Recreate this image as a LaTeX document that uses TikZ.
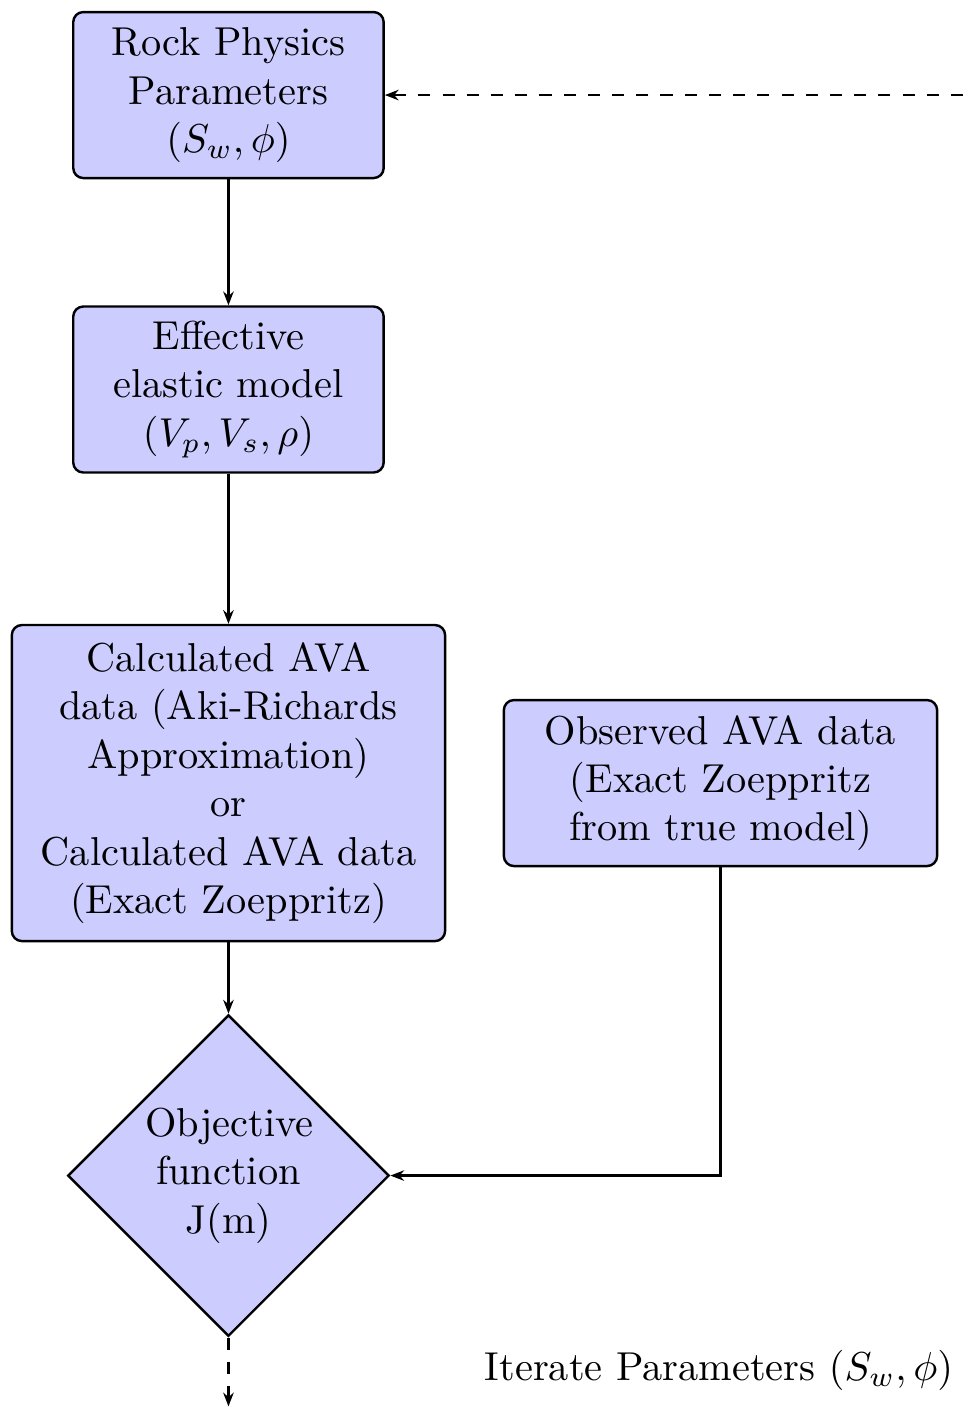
\documentclass[tikz,border=0pt]{standalone}
\usepackage{amsmath}
\usetikzlibrary{arrows.meta}
\usetikzlibrary{shapes.geometric}
\usetikzlibrary{positioning}

\begin{document}
\begin{tikzpicture}[>={Stealth[length=3.4pt,width=2.6pt]}, semithick]
    \tikzset{Block/.style={rectangle, rounded corners=2.5pt, draw, fill=blue!20, text centered, text width=2.47cm, minimum height=1.446cm}};
    \tikzset{Wide/.style={Block, text width=3.54cm}};
    \tikzset{Decision/.style={diamond, draw, fill=blue!20, text centered, text width=1.45cm, inner sep=0pt, minimum size=2.8cm}};
    \useasboundingbox (0,0) rectangle (8.389,-12.378);

    \node[Block](rock) at (1.990,-0.828) {Rock Physics Parameters $(S_w,\phi)$};
    \node[Block, below=2.565 of rock.center, anchor=center](elastic) {Effective elastic model $(V_p,V_s,\rho)$};
    \node[Wide, minimum height=2.753cm, below=3.428 of elastic.center, anchor=center](calc) {Calculated AVA data (Aki-Richards Approximation)\\or\\Calculated AVA data (Exact Zoeppritz)};
    \node[Wide, right=4.286 of calc.center, anchor=center](obs) {Observed AVA data (Exact Zoeppritz from true model)};
    \node[Decision, below=3.419 of calc.center, anchor=center](obj) {Objective function J(m)};
    \node (iter) at (6.263,-11.934) {Iterate Parameters $(S_w,\phi)$};

    \coordinate[below=0.6 of obj.south] (loopa);
    \coordinate (loopb) at (8.6,-0.828);

    \draw[->] (rock) -- (elastic);
    \draw[->] (elastic) -- (calc);
    \draw[->] (calc) -- (obj);
    \draw[->] (obs) |- (obj);

    % feedback loop
    \draw[->, dashed] (obj) -- (loopa);
    \draw[->, dashed] (loopb) -- (rock);
\end{tikzpicture}
\end{document}
